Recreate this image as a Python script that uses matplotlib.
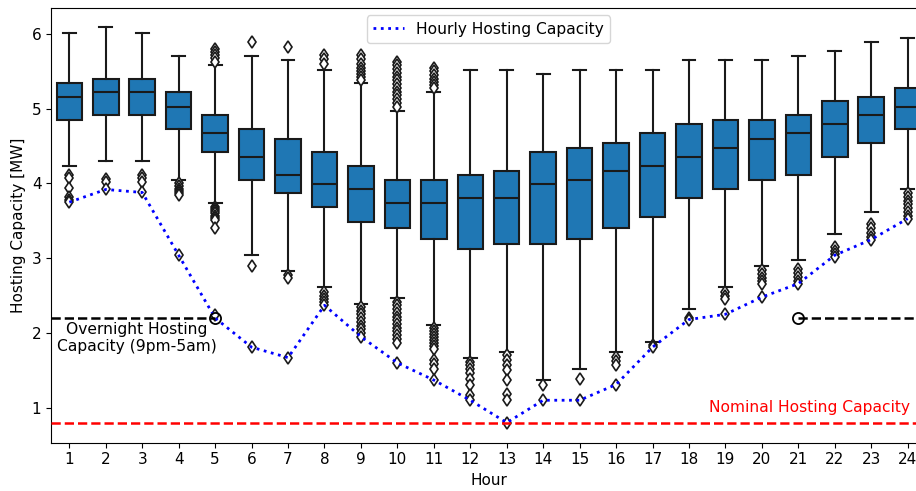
import matplotlib
matplotlib.use("Agg")
import matplotlib.pyplot as plt

hours = list(range(1, 25))

medians = [5.16, 5.22, 5.22, 5.03, 4.67, 4.36, 4.11, 3.99, 3.93, 3.74, 3.74, 3.80,
           3.80, 3.99, 4.05, 4.17, 4.23, 4.36, 4.48, 4.60, 4.67, 4.79, 4.91, 5.03]
q1 = [4.85, 4.91, 4.91, 4.73, 4.42, 4.05, 3.87, 3.68, 3.48, 3.41, 3.26, 3.12,
      3.19, 3.19, 3.26, 3.41, 3.55, 3.80, 3.93, 4.05, 4.11, 4.36, 4.54, 4.73]
q3 = [5.34, 5.40, 5.40, 5.22, 4.91, 4.73, 4.60, 4.42, 4.23, 4.05, 4.05, 4.11,
      4.17, 4.42, 4.48, 4.54, 4.67, 4.79, 4.85, 4.85, 4.91, 5.10, 5.16, 5.28]
whisker_low = [4.23, 4.30, 4.30, 4.05, 3.74, 3.04, 2.83, 2.61, 2.39, 2.47, 2.11, 1.67,
               1.74, 1.37, 1.52, 1.74, 1.88, 2.32, 2.61, 2.89, 2.97, 3.33, 3.62, 3.93]
whisker_high = [6.01, 6.09, 6.01, 5.71, 5.59, 5.71, 5.65, 5.52, 5.34, 4.97, 5.23, 5.52,
                5.52, 5.46, 5.52, 5.52, 5.52, 5.65, 5.65, 5.65, 5.71, 5.77, 5.89, 5.95]

fliers = [
    [4.12, 4.08, 3.94, 3.82, 3.78, 3.75],
    [4.06, 4.02, 3.93],
    [4.12, 4.08, 4.02, 3.88],
    [4.00, 3.96, 3.93, 3.90, 3.87, 3.84, 3.04],
    [5.80, 5.76, 5.72, 5.68, 5.63, 3.69, 3.66, 3.63, 3.60, 3.57, 3.54, 3.51, 3.40, 2.24],
    [5.89, 2.89, 1.81],
    [5.83, 2.77, 2.74, 1.67],
    [5.72, 5.66, 5.60, 2.55, 2.50, 2.46, 2.42, 2.38],
    [5.72, 5.66, 5.60, 5.55, 5.50, 5.46, 5.42, 5.38,
     2.35, 2.30, 2.25, 2.20, 2.15, 2.10, 2.05, 2.00, 1.95],
    [5.63, 5.58, 5.53, 5.48, 5.43, 5.38, 5.33, 5.28, 5.23, 5.18, 5.13, 5.08, 5.03,
     2.42, 2.37, 2.32, 2.27, 2.22, 2.17, 2.12, 2.07, 2.02, 1.97, 1.92, 1.87, 1.60],
    [5.55, 5.50, 5.45, 5.40, 5.36, 5.32, 5.28,
     2.06, 2.02, 1.98, 1.94, 1.90, 1.86, 1.82, 1.78, 1.64, 1.58, 1.52, 1.37],
    [1.61, 1.57, 1.52, 1.46, 1.39, 1.30, 1.17, 1.10],
    [1.70, 1.64, 1.57, 1.50, 1.37, 1.19, 1.10, 0.80],
    [1.30, 1.10],
    [1.38, 1.10],
    [1.68, 1.62, 1.57, 1.31],
    [1.84, 1.81],
    [2.20, 2.17],
    [2.55, 2.50, 2.46, 2.25],
    [2.84, 2.79, 2.74, 2.70, 2.66, 2.48],
    [2.86, 2.80, 2.75, 2.70, 2.66],
    [3.15, 3.10, 3.05, 3.02],
    [3.46, 3.40, 3.34, 3.28, 3.25],
    [3.87, 3.82, 3.77, 3.72, 3.67, 3.62, 3.57, 3.53],
]

hourly_capacity = [3.75, 3.92, 3.88, 3.04, 2.20, 1.81, 1.67, 2.37, 1.95, 1.60, 1.37, 1.10,
                   0.80, 1.10, 1.10, 1.31, 1.81, 2.18, 2.25, 2.48, 2.66, 3.04, 3.25, 3.53]

overnight_capacity = 2.2
nominal_capacity = 0.8
overnight_start_hour = 21
overnight_end_hour = 5

fig = plt.figure(figsize=(9.16, 4.91), dpi=100)
ax = fig.add_axes([51.1 / 916, 48.3 / 491, 874.8 / 916, 435.0 / 491])

stats = []
for i, h in enumerate(hours):
    stats.append(dict(med=medians[i], q1=q1[i], q3=q3[i], whislo=whisker_low[i],
                      whishi=whisker_high[i], fliers=fliers[i], label=str(h)))

edge = "#1a1a1a"
ax.bxp(stats, positions=hours, widths=0.7, patch_artist=True,
       boxprops=dict(facecolor="#1f77b4", edgecolor=edge, linewidth=1.5),
       medianprops=dict(color=edge, linewidth=1.5),
       whiskerprops=dict(color=edge, linewidth=1.5),
       capprops=dict(color=edge, linewidth=1.5),
       flierprops=dict(marker="d", markerfacecolor="white", markeredgecolor=edge,
                       markersize=6, markeredgewidth=1.2, linestyle="none"),
       zorder=2)

ax.plot(hours, hourly_capacity, linestyle=":", color="blue", linewidth=2,
        label="Hourly Hosting Capacity", zorder=3)

xmin, xmax = 0.5, 24.5
ax.plot([xmin, overnight_end_hour], [overnight_capacity] * 2, color="black",
        linestyle="--", linewidth=1.8, zorder=3)
ax.plot([overnight_start_hour, xmax], [overnight_capacity] * 2, color="black",
        linestyle="--", linewidth=1.8, zorder=3)
ax.plot([overnight_end_hour, overnight_start_hour], [overnight_capacity] * 2,
        linestyle="none", marker="o", markersize=8, markerfacecolor="none",
        markeredgecolor="black", markeredgewidth=1.3, zorder=4)
ax.text(2.86, 1.93, "Overnight Hosting\nCapacity (9pm-5am)", ha="center", va="center",
        fontsize=11.2, color="black")

ax.axhline(nominal_capacity, color="red", linestyle="--", linewidth=1.8, zorder=3)
ax.text(24.07, 1.0, "Nominal Hosting Capacity", ha="right", va="center",
        fontsize=11.2, color="red")

ax.set_xlim(xmin, xmax)
ax.set_ylim(0.532, 6.352)
ax.set_xticks(hours)
ax.set_xticklabels([str(h) for h in hours])
ax.tick_params(labelsize=11)
ax.set_xlabel("Hour", fontsize=11)
ax.set_ylabel("Hosting Capacity [MW]", fontsize=11)
ax.legend(loc="upper center", fontsize=11.2)

fig.savefig("out.png", dpi=100)
